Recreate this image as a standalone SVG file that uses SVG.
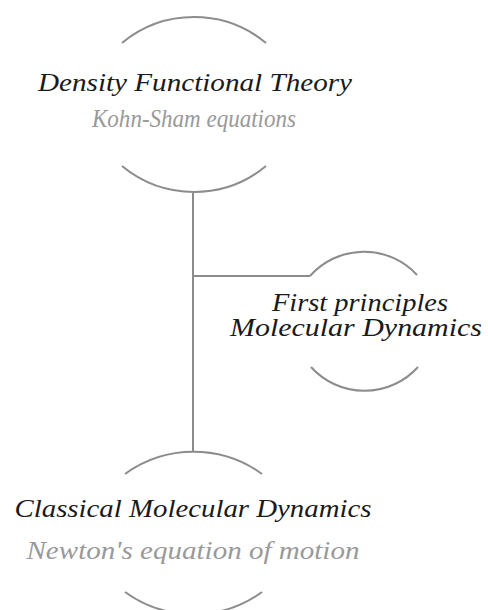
<svg xmlns="http://www.w3.org/2000/svg" width="488" height="610" viewBox="0 0 488 610">
<style>
.arc{fill:none;stroke:#8c8c8c;stroke-width:2}
.conn{fill:none;stroke:#8c8c8c;stroke-width:2}
.t{font-family:"Liberation Serif",serif;font-style:italic;font-size:26px;text-anchor:middle;fill:#1a1a1a}
.m{font-family:"Liberation Serif",serif;font-style:italic;font-size:25px;text-anchor:middle;fill:#1a1a1a}
.s{font-family:"Liberation Serif",serif;font-style:italic;font-size:25px;text-anchor:middle;fill:#999}
</style>
<rect width="488" height="610" fill="#fff"/>
<g id="connectors">
<path class="conn" d="M193,193 V452"/>
<path class="conn" d="M193,276 H310"/>
</g>
<g id="dft">
<path class="arc" d="M122,43 A113,113 0 0 1 266,43"/>
<path class="arc" d="M122,166 A113,113 0 0 0 266,166"/>
<text class="t" x="195" y="91" textLength="314" lengthAdjust="spacingAndGlyphs">Density Functional Theory</text>
<text class="s" x="194" y="127" textLength="204" lengthAdjust="spacingAndGlyphs">Kohn-Sham equations</text>
</g>
<g id="fpmd">
<path class="arc" d="M310,276 A72,72 0 0 1 417,275"/>
<path class="arc" d="M311,367 A72,72 0 0 0 418,367"/>
<text class="m" x="360" y="311" textLength="176" lengthAdjust="spacingAndGlyphs">First principles</text>
<text class="m" x="356" y="336" textLength="252" lengthAdjust="spacingAndGlyphs">Molecular Dynamics</text>
</g>
<g id="cmd">
<path class="arc" d="M125,474 A117,117 0 0 1 262,474"/>
<path class="arc" d="M125,592 A117,117 0 0 0 262,592"/>
<text class="t" x="193" y="517" textLength="357" lengthAdjust="spacingAndGlyphs">Classical Molecular Dynamics</text>
<text class="s" x="193" y="559" textLength="333" lengthAdjust="spacingAndGlyphs">Newton's equation of motion</text>
</g>
</svg>
